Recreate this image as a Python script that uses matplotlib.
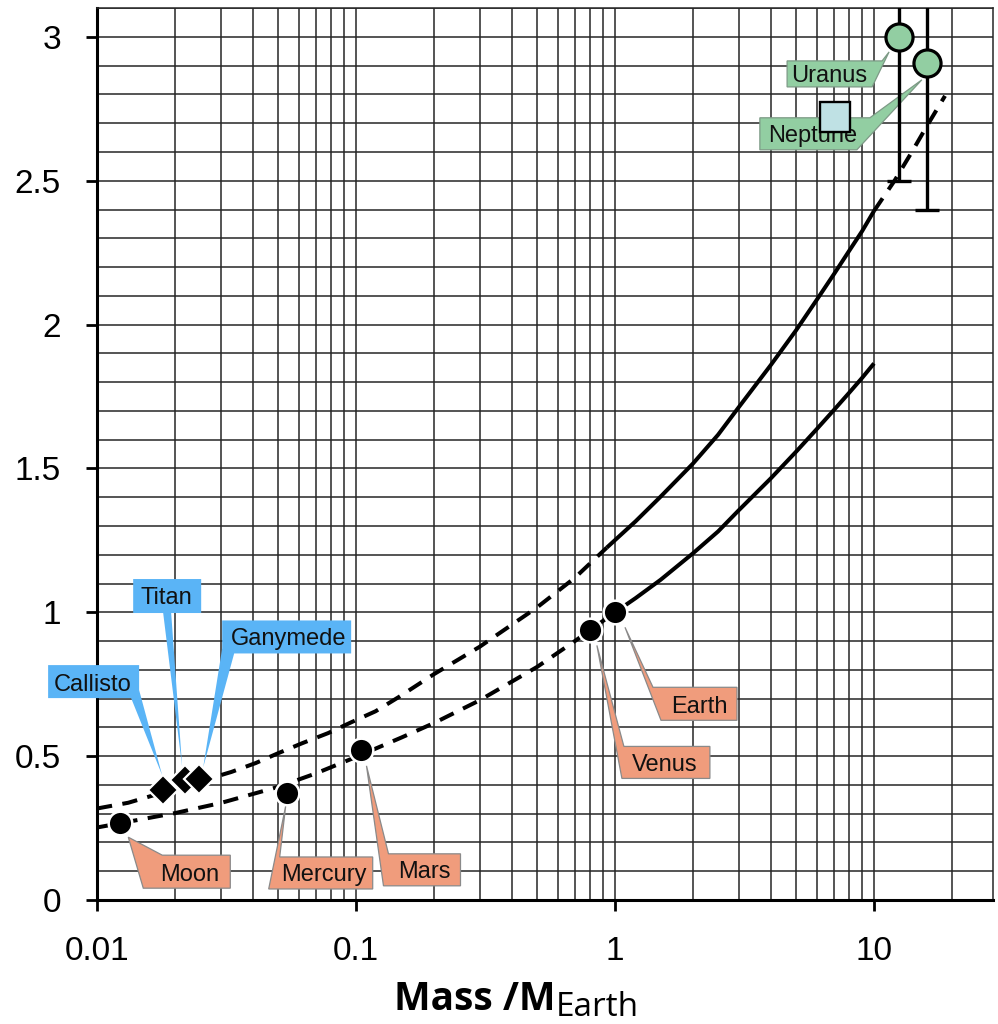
import numpy as np
import matplotlib
matplotlib.use("Agg")
import matplotlib.pyplot as plt
from matplotlib.patches import Polygon
from matplotlib.transforms import IdentityTransform
from matplotlib.ticker import FixedLocator, NullFormatter, MultipleLocator

# ---------------- data ----------------
planet_names = ["Moon", "Mercury", "Mars", "Venus", "Earth"]
planet_mass = [0.0123, 0.054, 0.105, 0.80, 1.0]
planet_radius = [0.267, 0.372, 0.522, 0.937, 1.0]

moon_names = ["Callisto", "Titan", "Ganymede"]
moon_mass = [0.018, 0.0219, 0.0248]
moon_radius = [0.382, 0.417, 0.419]

giant_names = ["Uranus", "Neptune"]
giant_mass = [12.5, 16.0]
giant_radius = [3.0, 2.91]
giant_err = [0.5, 0.51]

other_mass = [7.07]
other_radius = [2.72]

# model curves (rocky / icy), dashed where extrapolated
lower_dash_mass = [0.01, 0.02, 0.03, 0.05, 0.07, 0.1, 0.15, 0.2, 0.3, 0.5, 0.7, 1.0]
lower_dash_radius = [0.252, 0.302, 0.337, 0.393, 0.44, 0.497, 0.565, 0.615, 0.694, 0.81, 0.90, 1.0]
lower_solid_mass = [1.0, 1.2, 1.5, 2, 2.5, 3, 4, 5, 6, 7, 8, 9, 10]
lower_solid_radius = [1.0, 1.049, 1.113, 1.205, 1.281, 1.354, 1.466, 1.558, 1.636,
                      1.703, 1.762, 1.815, 1.865]

upper_dash_mass = [0.01, 0.0132, 0.02, 0.033, 0.041, 0.05, 0.062, 0.078, 0.096,
                   0.119, 0.146, 0.2, 0.3, 0.5, 0.7, 0.93]
upper_dash_radius = [0.318, 0.338, 0.386, 0.445, 0.476, 0.51, 0.545, 0.58, 0.618,
                     0.656, 0.705, 0.785, 0.88, 1.017, 1.12, 1.225]
upper_solid_mass = [0.93, 1.2, 1.5, 2, 2.5, 3, 4, 5, 6, 7, 8, 9, 10]
upper_solid_radius = [1.225, 1.316, 1.402, 1.517, 1.617, 1.712, 1.86, 1.98, 2.085,
                      2.175, 2.255, 2.325, 2.395]
upper_ext_mass = [10, 12, 14, 16, 18.8]
upper_ext_radius = [2.395, 2.50, 2.60, 2.69, 2.795]

x_major = [0.01, 0.1, 1, 10]
x_major_labels = ["0.01", "0.1", "1", "10"]
y_major = [0, 0.5, 1, 1.5, 2, 2.5, 3]
y_major_labels = ["0", "0.5", "1", "1.5", "2", "2.5", "3"]

# ---------------- figure ----------------
W, H = 998, 1024
fig = plt.figure(figsize=(W / 100, H / 100), dpi=100)
ax = fig.add_axes([97 / W, 124 / H, 896 / W, 892 / H])
ax.set_xscale("log")
ax.set_xlim(0.01, 10 ** (-2 + 896 / 259))
ax.set_ylim(0, 892 / 287.7)
ax.set_autoscale_on(False)

tick_font = ["Liberation Sans Narrow", "Liberation Sans", "DejaVu Sans"]
label_font = ["Liberation Sans", "DejaVu Sans"]
GRID = "#262626"

ax.set_xticks(x_major)
ax.set_xticklabels(x_major_labels)
minor_x = [m * d for d in (0.01, 0.1, 1, 10) for m in range(2, 10)]
ax.xaxis.set_minor_locator(FixedLocator(minor_x))
ax.xaxis.set_minor_formatter(NullFormatter())
ax.set_yticks(y_major)
ax.set_yticklabels(y_major_labels)
ax.yaxis.set_minor_locator(MultipleLocator(0.1))

ax.tick_params(which="major", direction="out", length=8, width=2, color="black",
               labelsize=24, pad=18)
ax.tick_params(which="minor", length=0)
for lab in ax.get_xticklabels() + ax.get_yticklabels():
    lab.set_family(tick_font)

ax.set_axisbelow(True)
ax.grid(True, which="both", color=GRID, lw=1.1)
for side in ("left", "bottom"):
    ax.spines[side].set_linewidth(2.2)
    ax.spines[side].set_color("black")
    ax.spines[side].set_zorder(2.5)
for side in ("top", "right"):
    ax.spines[side].set_linewidth(1.1)
    ax.spines[side].set_color(GRID)

# ---------------- model curves ----------------
LW = 2.9
DASH = (3.8, 2.6)
ax.plot(lower_dash_mass, lower_dash_radius, color="black", lw=LW, dashes=DASH, zorder=2)
ax.plot(lower_solid_mass, lower_solid_radius, color="black", lw=LW, zorder=2,
        solid_capstyle="butt")
ax.plot(upper_dash_mass, upper_dash_radius, color="black", lw=LW, dashes=DASH, zorder=2)
ax.plot(upper_solid_mass, upper_solid_radius, color="black", lw=LW, zorder=2,
        solid_capstyle="butt")
ax.plot(upper_ext_mass, upper_ext_radius, color="black", lw=LW, dashes=DASH, zorder=2)

# ---------------- callouts ----------------
SALMON = dict(fc="#f09c7c", ec="#8a8a8a")
BLUE = dict(fc="#5ab4f6", ec="none")
GREEN = dict(fc="#92cea2", ec="#7d9a86")

# outline vertices and text centre, in pixel offsets from the marked point
# (x to the right, y downward)
callouts = [
    ("Moon", planet_mass[0], planet_radius[0], SALMON,
     [(8, 14), (42, 32), (110, 32), (110, 65), (23, 65)], (69, 49)),
    ("Mercury", planet_mass[1], planet_radius[1], SALMON,
     [(-1, 13), (-7, 64), (86, 64), (86, 96), (-18, 96)], (37, 80)),
    ("Mars", planet_mass[2], planet_radius[2], SALMON,
     [(5, 16), (27, 104), (99, 104), (99, 136), (22, 136)], (63, 120)),
    ("Venus", planet_mass[3], planet_radius[3], SALMON,
     [(7, 15), (34, 116), (120, 116), (120, 148), (32, 148)], (75, 132)),
    ("Earth", planet_mass[4], planet_radius[4], SALMON,
     [(10, 15), (38, 75), (122, 75), (122, 108), (46, 108)], (84, 92)),
    ("Callisto", moon_mass[0], moon_radius[0], BLUE,
     [(-115, -125), (-24, -125), (-24, -100), (-1, -15), (-32, -92), (-115, -92)], (-70, -108)),
    ("Titan", moon_mass[1], moon_radius[1], BLUE,
     [(-52, -201), (16, -201), (16, -167), (-14, -167), (-3, -13), (-22, -167), (-52, -167)], (-19, -184)),
    ("Ganymede", moon_mass[2], moon_radius[2], BLUE,
     [(23, -159), (152, -159), (152, -126), (35, -126), (4, -12), (23, -131)], (89, -143)),
    ("Uranus", giant_mass[0], giant_radius[0], GREEN,
     [(-112, 24), (-17, 24), (-10, 15), (-27, 50), (-112, 50)], (-70, 37)),
    ("Neptune", giant_mass[1], giant_radius[1], GREEN,
     [(-167, 55), (-57, 55), (-5, 17), (-70, 87), (-167, 87)], (-114, 71)),
]

FS = 17
cap_px = 0.716 * FS * 100 / 72
for label, mx, my, style, verts, (tx, ty) in callouts:
    px, py = ax.transData.transform((mx, my))
    pts = [(px + dx, py - dy) for dx, dy in verts]
    ax.add_patch(Polygon(pts, closed=True, transform=IdentityTransform(),
                         lw=0.9, zorder=3, clip_on=False, **style))
    ax.text(px + tx, py - ty - cap_px / 2, label, transform=IdentityTransform(),
            ha="center", va="baseline", fontsize=FS, family=label_font,
            color="#111111", zorder=3.1, clip_on=False)

# ---------------- data points ----------------
ax.errorbar(giant_mass, giant_radius, yerr=giant_err, fmt="none", ecolor="black",
            elinewidth=2.4, capsize=8.5, capthick=2.4, zorder=4)
ax.plot(giant_mass, giant_radius, "o", ms=19.5, mfc="#92cea2", mec="black", mew=2.3,
        zorder=5, clip_on=False)
ax.plot(other_mass, other_radius, "s", ms=21.5, mfc="#bfe1e4", mec="black", mew=1.7,
        zorder=5)
ax.plot(planet_mass, planet_radius, "o", ms=17, mfc="black", mec="white", mew=1.8,
        zorder=5)
for mx, my in zip(moon_mass, moon_radius):
    ax.plot([mx], [my], "D", ms=15, mfc="black", mec="white", mew=1.6, zorder=5)

# ---------------- axis title ----------------
xl = 556 / W
fig.text(xl, (H - 1010) / H, "Mass /M", ha="right", va="baseline",
         fontsize=28, fontweight="bold", family=["Open Sans", "DejaVu Sans"])
fig.text(xl, (H - 1016) / H, "Earth", ha="left", va="baseline",
         fontsize=24, family=["Open Sans", "DejaVu Sans"])

fig.savefig("out.png", dpi=100)
